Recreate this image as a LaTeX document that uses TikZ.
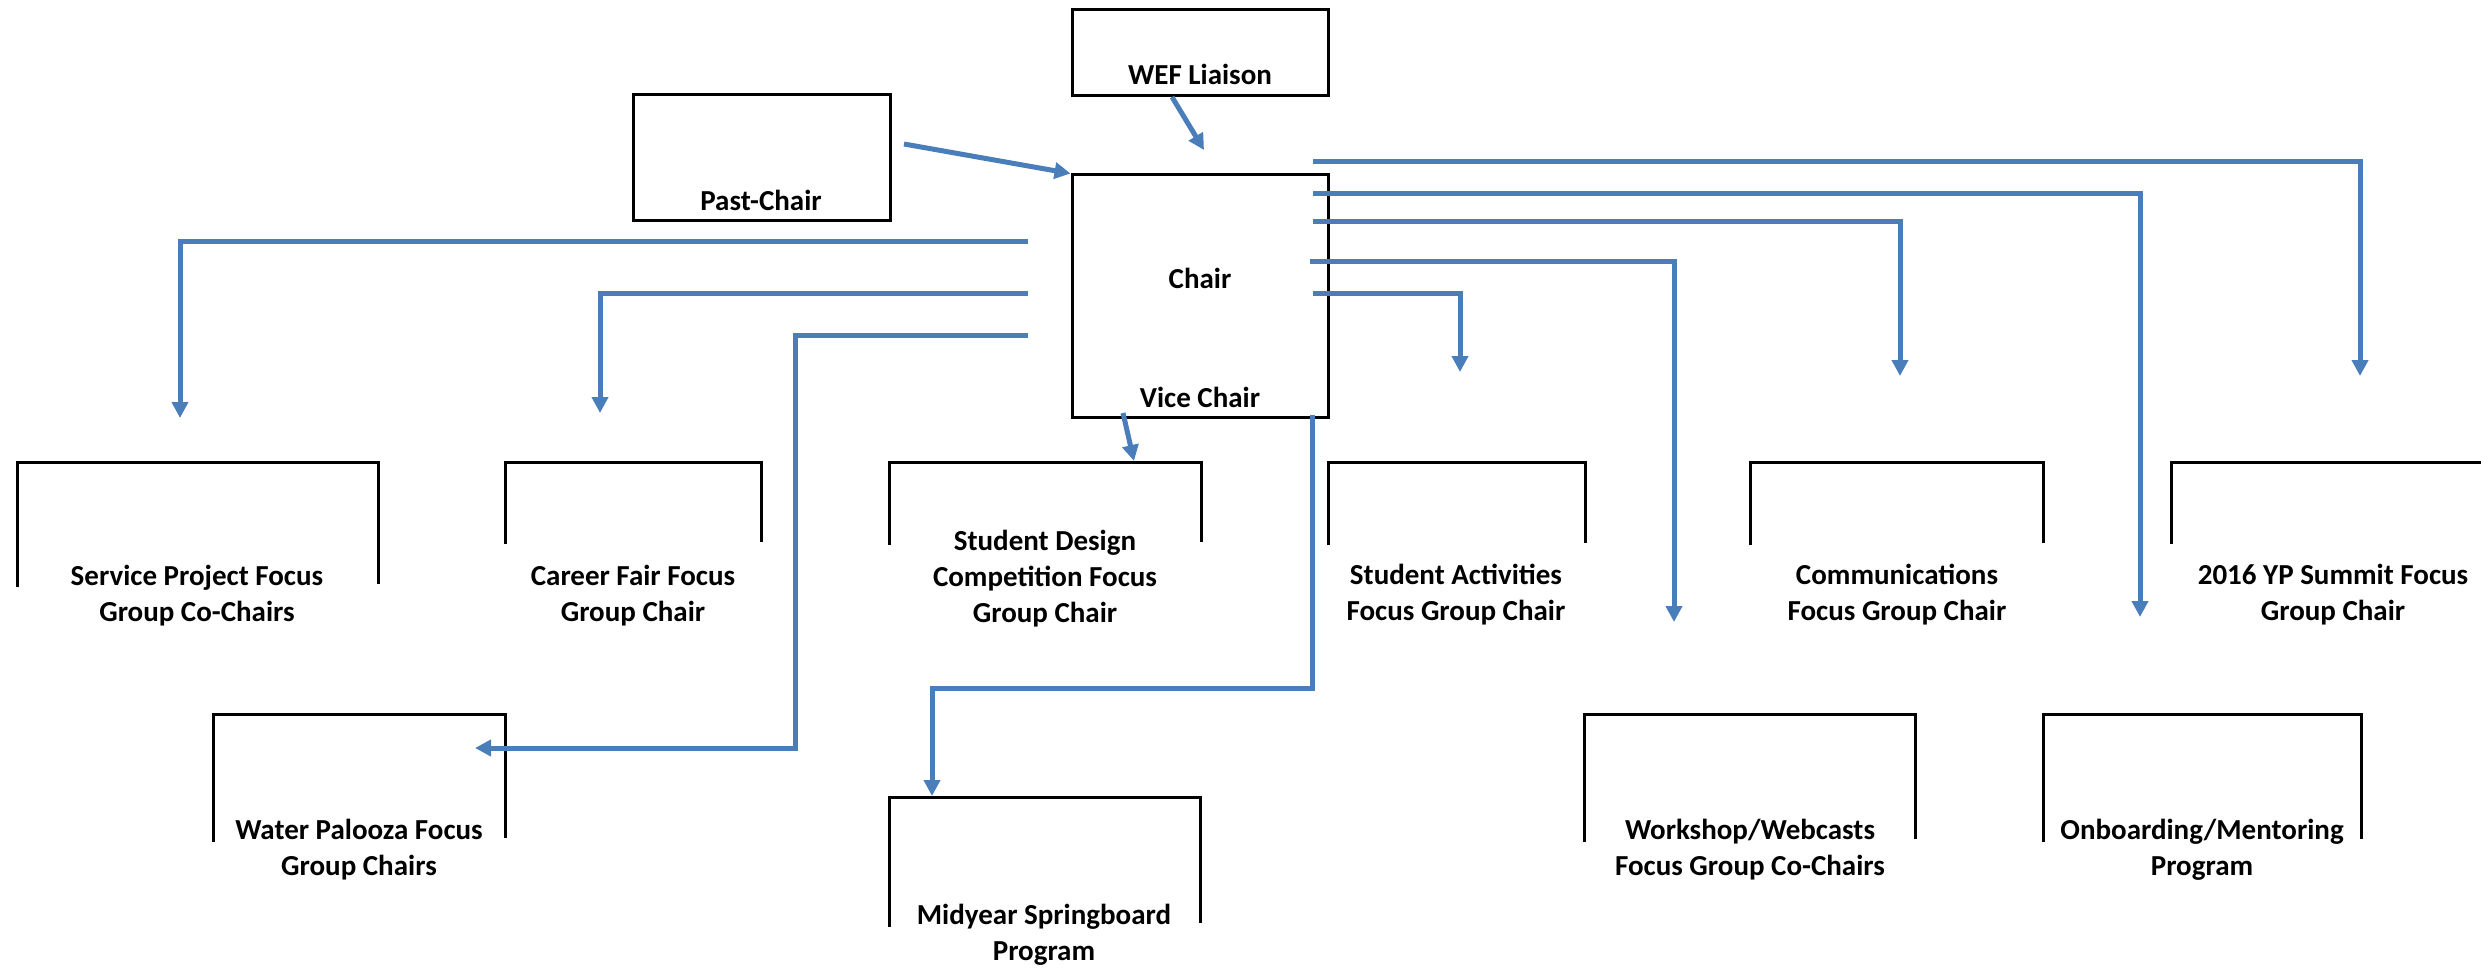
\documentclass[tikz,border=0pt]{standalone}
\usepackage{fontspec}
\setmainfont{Carlito}
\usetikzlibrary{arrows.meta}
\definecolor{conn}{RGB}{74,126,187}
\tikzset{
  frame/.style={draw=black, line width=3pt},
  boxnode/.style={frame, inner sep=0pt},
  lbl/.style={font=\bfseries\fontsize{29}{36}\selectfont, align=center, inner sep=0pt, anchor=base},
  link/.style={draw=conn, line width=5pt, -{Triangle[length=16pt,width=16pt]}},
}
\begin{document}
\begin{tikzpicture}[x=1pt,y=-1pt]
\useasboundingbox (0,0) rectangle (2481,968);

% closed boxes
\node[boxnode, minimum width=256pt, minimum height=86pt] (wefbox) at (1200,53) {};
\node[boxnode, minimum width=257pt, minimum height=126pt] (pastbox) at (761.5,158) {};
\node[boxnode, minimum width=256pt, minimum height=242pt] (chair) at (1200,296) {};

% open-bottom boxes
\draw[frame] (17,587) -- (17,462) -- (378,462) -- (378,584);
\draw[frame] (505,544) -- (505,462) -- (761,462) -- (761,542);
\draw[frame] (889,545) -- (889,462) -- (1201,462) -- (1201,542);
\draw[frame] (1328,545) -- (1328,462) -- (1585,462) -- (1585,543);
\draw[frame] (1750,545) -- (1750,462) -- (2043,462) -- (2043,543);
\draw[frame] (2171,544) -- (2171,462) -- (2490,462);
\draw[frame] (213,842) -- (213,714) -- (505,714) -- (505,838);
\draw[frame] (1584,842) -- (1584,714) -- (1915,714) -- (1915,839);
\draw[frame] (2043,842) -- (2043,714) -- (2361,714) -- (2361,839);
\draw[frame] (889,927) -- (889,797) -- (1200,797) -- (1200,923);

% labels (multi-line: base anchor = last line's baseline)
\node[lbl] (wef) at (1200,85) {WEF Liaison};
\node[lbl] (past) at (761,211) {Past-Chair};
\node[lbl] (chairlbl) at (1200,288) {Chair};
\node[lbl] (vice) at (1200,407) {Vice Chair};
\node[lbl] (service) at (197,621) {Service Project Focus\\Group Co-Chairs};
\node[lbl] (career) at (633,621) {Career Fair Focus\\Group Chair};
\node[lbl] (design) at (1045,622) {Student Design\\Competition Focus\\Group Chair};
\node[lbl] (activities) at (1456,620) {Student Activities\\Focus Group Chair};
\node[lbl] (comms) at (1897,620) {Communications\\Focus Group Chair};
\node[lbl] (summit) at (2333,620) {2016 YP Summit Focus\\Group Chair};
\node[lbl] (water) at (359,875) {Water Palooza Focus\\Group Chairs};
\node[lbl] (workshop) at (1750,875) {Workshop/Webcasts\\Focus Group Co-Chairs};
\node[lbl] (onboard) at (2202,875) {Onboarding/Mentoring\\Program};
\node[lbl] (midyear) at (1044,960) {Midyear Springboard\\Program};

% connector end points
\coordinate (pc0) at (904,144);
\coordinate (wf0) at (1172,97);
\coordinate (wf1) at (1204,150);
\coordinate (l1) at (1028,242);   \coordinate (t1) at (180,418);
\coordinate (l2) at (1028,294);   \coordinate (t2) at (600,413);
\coordinate (l3) at (1028,335);   \coordinate (k3) at (795,748); \coordinate (t3) at (475,748);
\coordinate (v0) at (1123,413);   \coordinate (v1) at (1134,461);
\coordinate (m0) at (1312,415);   \coordinate (m1) at (1312,688); \coordinate (m2) at (932,688); \coordinate (t4) at (932,796);
\coordinate (r1) at (1313,162);   \coordinate (u1) at (2360,376);
\coordinate (r2) at (1313,194);   \coordinate (u2) at (2140,617);
\coordinate (r3) at (1313,222);   \coordinate (u3) at (1900,376);
\coordinate (r4) at (1310,262);   \coordinate (u4) at (1674,622);
\coordinate (r5) at (1313,294);   \coordinate (u5) at (1460,372);

% connectors
\draw[link] (pc0) -- (chair.north west);
\draw[link] (wf0) -- (wf1);
\draw[link] (l1) -| (t1);
\draw[link] (l2) -| (t2);
\draw[link] (l3) -| (k3) -- (t3);
\draw[link] (v0) -- (v1);
\draw[link] (m0) -- (m1) -- (m2) -- (t4);
\draw[link] (r1) -| (u1);
\draw[link] (r2) -| (u2);
\draw[link] (r3) -| (u3);
\draw[link] (r4) -| (u4);
\draw[link] (r5) -| (u5);
\end{tikzpicture}
\end{document}
